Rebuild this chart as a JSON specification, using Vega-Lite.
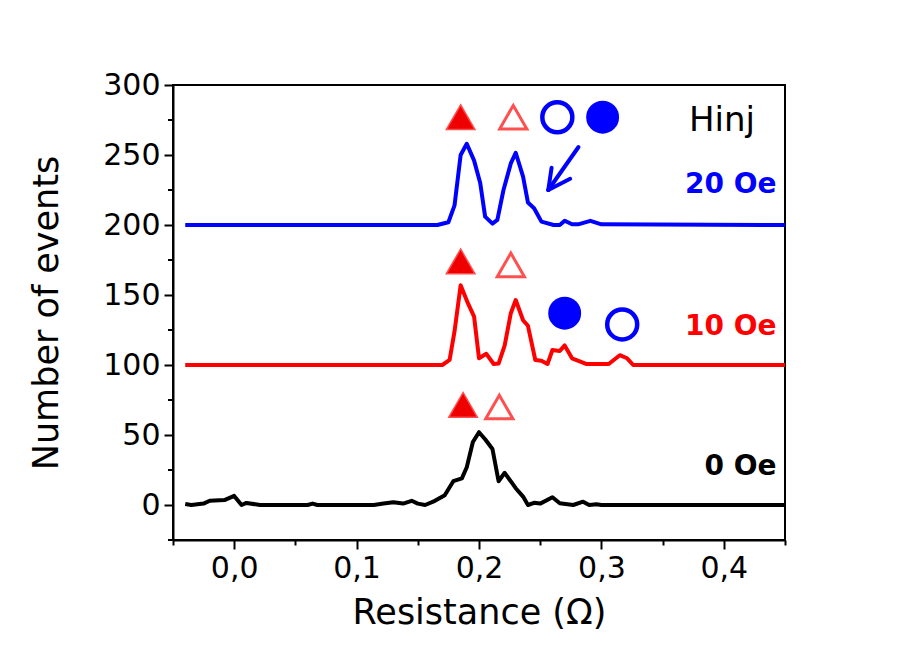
{
  "$schema": "https://vega.github.io/schema/vega-lite/v6.json",
  "width": 612,
  "height": 455,
  "autosize": "none",
  "padding": {"left": 173, "top": 85, "right": 120, "bottom": 109},
  "background": "white",
  "config": {
    "view": {"stroke": "black", "strokeWidth": 2},
    "axis": {
      "domainColor": "black", "domainWidth": 2, "tickColor": "black", "tickWidth": 2,
      "labelFont": "DejaVu Sans", "labelFontSize": 30, "labelColor": "black", "labelOverlap": false,
      "titleFont": "DejaVu Sans", "titleFontSize": 35, "titleFontWeight": "normal", "titleColor": "black",
      "grid": false
    }
  },
  "datasets": {
    "curves": [
      {"x": -0.040, "y": 0.7, "s": "0 Oe"}, {"x": -0.035, "y": 0, "s": "0 Oe"}, {"x": -0.025, "y": 1, "s": "0 Oe"}, {"x": -0.020, "y": 3, "s": "0 Oe"}, {"x": -0.008, "y": 3.5, "s": "0 Oe"}, {"x": 0.000, "y": 6.5, "s": "0 Oe"}, {"x": 0.006, "y": 0, "s": "0 Oe"}, {"x": 0.010, "y": 1.5, "s": "0 Oe"}, {"x": 0.021, "y": 0, "s": "0 Oe"}, {"x": 0.060, "y": 0, "s": "0 Oe"}, {"x": 0.064, "y": 1, "s": "0 Oe"}, {"x": 0.068, "y": 0, "s": "0 Oe"}, {"x": 0.114, "y": 0, "s": "0 Oe"}, {"x": 0.122, "y": 1, "s": "0 Oe"}, {"x": 0.130, "y": 2, "s": "0 Oe"}, {"x": 0.138, "y": 1, "s": "0 Oe"}, {"x": 0.145, "y": 3, "s": "0 Oe"}, {"x": 0.150, "y": 1, "s": "0 Oe"}, {"x": 0.156, "y": 0, "s": "0 Oe"}, {"x": 0.164, "y": 3, "s": "0 Oe"}, {"x": 0.172, "y": 7, "s": "0 Oe"}, {"x": 0.179, "y": 17, "s": "0 Oe"}, {"x": 0.186, "y": 19, "s": "0 Oe"}, {"x": 0.190, "y": 27, "s": "0 Oe"}, {"x": 0.195, "y": 45, "s": "0 Oe"}, {"x": 0.200, "y": 52, "s": "0 Oe"}, {"x": 0.205, "y": 47, "s": "0 Oe"}, {"x": 0.211, "y": 40, "s": "0 Oe"}, {"x": 0.216, "y": 17, "s": "0 Oe"}, {"x": 0.221, "y": 23, "s": "0 Oe"}, {"x": 0.230, "y": 12, "s": "0 Oe"}, {"x": 0.236, "y": 6, "s": "0 Oe"}, {"x": 0.240, "y": 0, "s": "0 Oe"}, {"x": 0.245, "y": 1.6, "s": "0 Oe"}, {"x": 0.250, "y": 1, "s": "0 Oe"}, {"x": 0.260, "y": 5.5, "s": "0 Oe"}, {"x": 0.266, "y": 1.2, "s": "0 Oe"}, {"x": 0.277, "y": 0, "s": "0 Oe"}, {"x": 0.285, "y": 2.4, "s": "0 Oe"}, {"x": 0.290, "y": 0, "s": "0 Oe"}, {"x": 0.296, "y": 0.5, "s": "0 Oe"}, {"x": 0.300, "y": 0, "s": "0 Oe"}, {"x": 0.450, "y": 0, "s": "0 Oe"},
      {"x": -0.040, "y": 100, "s": "10 Oe"}, {"x": 0.170, "y": 100, "s": "10 Oe"}, {"x": 0.176, "y": 103.6, "s": "10 Oe"}, {"x": 0.180, "y": 124, "s": "10 Oe"}, {"x": 0.185, "y": 157, "s": "10 Oe"}, {"x": 0.191, "y": 144, "s": "10 Oe"}, {"x": 0.196, "y": 134.5, "s": "10 Oe"}, {"x": 0.200, "y": 104.8, "s": "10 Oe"}, {"x": 0.206, "y": 108, "s": "10 Oe"}, {"x": 0.212, "y": 100.7, "s": "10 Oe"}, {"x": 0.216, "y": 101, "s": "10 Oe"}, {"x": 0.221, "y": 114, "s": "10 Oe"}, {"x": 0.226, "y": 137, "s": "10 Oe"}, {"x": 0.230, "y": 146.4, "s": "10 Oe"}, {"x": 0.236, "y": 132, "s": "10 Oe"}, {"x": 0.240, "y": 128, "s": "10 Oe"}, {"x": 0.246, "y": 103.6, "s": "10 Oe"}, {"x": 0.251, "y": 103, "s": "10 Oe"}, {"x": 0.256, "y": 100.7, "s": "10 Oe"}, {"x": 0.260, "y": 110.7, "s": "10 Oe"}, {"x": 0.266, "y": 110, "s": "10 Oe"}, {"x": 0.270, "y": 114, "s": "10 Oe"}, {"x": 0.276, "y": 104.8, "s": "10 Oe"}, {"x": 0.288, "y": 100.7, "s": "10 Oe"}, {"x": 0.306, "y": 100.7, "s": "10 Oe"}, {"x": 0.315, "y": 107, "s": "10 Oe"}, {"x": 0.321, "y": 104.8, "s": "10 Oe"}, {"x": 0.326, "y": 100, "s": "10 Oe"}, {"x": 0.450, "y": 100, "s": "10 Oe"},
      {"x": -0.040, "y": 200, "s": "20 Oe"}, {"x": 0.166, "y": 200, "s": "20 Oe"}, {"x": 0.175, "y": 202, "s": "20 Oe"}, {"x": 0.180, "y": 214, "s": "20 Oe"}, {"x": 0.185, "y": 250, "s": "20 Oe"}, {"x": 0.190, "y": 258, "s": "20 Oe"}, {"x": 0.196, "y": 246, "s": "20 Oe"}, {"x": 0.201, "y": 230, "s": "20 Oe"}, {"x": 0.205, "y": 206, "s": "20 Oe"}, {"x": 0.211, "y": 201, "s": "20 Oe"}, {"x": 0.215, "y": 203.6, "s": "20 Oe"}, {"x": 0.220, "y": 225, "s": "20 Oe"}, {"x": 0.226, "y": 244, "s": "20 Oe"}, {"x": 0.230, "y": 251.6, "s": "20 Oe"}, {"x": 0.236, "y": 234.5, "s": "20 Oe"}, {"x": 0.240, "y": 216, "s": "20 Oe"}, {"x": 0.245, "y": 212, "s": "20 Oe"}, {"x": 0.251, "y": 202.4, "s": "20 Oe"}, {"x": 0.261, "y": 200, "s": "20 Oe"}, {"x": 0.266, "y": 200, "s": "20 Oe"}, {"x": 0.270, "y": 203, "s": "20 Oe"}, {"x": 0.276, "y": 200.5, "s": "20 Oe"}, {"x": 0.281, "y": 200.5, "s": "20 Oe"}, {"x": 0.291, "y": 203, "s": "20 Oe"}, {"x": 0.300, "y": 200.5, "s": "20 Oe"}, {"x": 0.450, "y": 200, "s": "20 Oe"}
    ],
    "markers": [
      {"x": 0.185, "y": 277, "m": "tri_filled"}, {"x": 0.228, "y": 277, "m": "tri_open"}, {"x": 0.264, "y": 277, "m": "circ_open"}, {"x": 0.301, "y": 277, "m": "circ_filled"},
      {"x": 0.185, "y": 174, "m": "tri_filled"}, {"x": 0.226, "y": 171.5, "m": "tri_open"}, {"x": 0.270, "y": 137, "m": "circ_filled"}, {"x": 0.317, "y": 129, "m": "circ_open"},
      {"x": 0.187, "y": 71.5, "m": "tri_filled"}, {"x": 0.2166, "y": 70, "m": "tri_open"}
    ],
    "labels": [
      {"x": 0.443, "y": 228.6, "t": "20 Oe"},
      {"x": 0.443, "y": 127, "t": "10 Oe"},
      {"x": 0.443, "y": 27, "t": "0 Oe"}
    ],
    "hinj": [
      {"x": 0.4255, "y": 274, "t": "Hinj"}
    ],
    "arrow": [
      {"x1": 0.2813, "y1": 255.7, "x2": 0.2566, "y2": 225},
      {"x1": 0.2566, "y1": 225, "x2": 0.2593, "y2": 240.9},
      {"x1": 0.2566, "y1": 225, "x2": 0.2745, "y2": 233}
    ],
    "yminor": [
      {"y": -25, "x1": -0.05, "x2": -0.0541}, {"y": 25, "x1": -0.05, "x2": -0.0541}, {"y": 75, "x1": -0.05, "x2": -0.0541},
      {"y": 125, "x1": -0.05, "x2": -0.0541}, {"y": 175, "x1": -0.05, "x2": -0.0541}, {"y": 225, "x1": -0.05, "x2": -0.0541},
      {"y": 275, "x1": -0.05, "x2": -0.0541}
    ]
  },
  "layer": [
    {
      "data": {"name": "curves"},
      "mark": {"type": "line", "strokeWidth": 4, "strokeJoin": "round"},
      "encoding": {
        "x": {"field": "x", "type": "quantitative", "title": "Resistance (Ω)",
          "scale": {"domain": [-0.05, 0.45], "nice": false, "zero": false},
          "axis": {
            "values": [-0.05, 0, 0.05, 0.1, 0.15, 0.2, 0.25, 0.3, 0.35, 0.4, 0.45],
            "labelExpr": "abs(datum.value*10 - round(datum.value*10)) < 0.001 ? replace(format(datum.value, '.1f'), '.', ',') : ''",
            "tickSize": {"condition": {"test": "abs(datum.value*10 - round(datum.value*10)) < 0.001", "value": 9}, "value": 5},
            "labelPadding": 4, "titlePadding": 12, "labelFlush": false, "labelOverlap": false
          }
        },
        "y": {"field": "y", "type": "quantitative", "title": "Number of events",
          "scale": {"domain": [-25, 300], "nice": false, "zero": false},
          "axis": {
            "values": [0, 50, 100, 150, 200, 250, 300],
            "format": "d",
            "tickSize": 9,
            "labelPadding": 4, "titlePadding": 38, "labelFlush": false, "labelOverlap": false
          }
        },
        "color": {"field": "s", "type": "nominal", "legend": null,
          "scale": {"domain": ["0 Oe", "10 Oe", "20 Oe"], "range": ["#000000", "#ff0000", "#0000ff"]}},
        "detail": {"field": "s"}
      }
    },
    {
      "data": {"name": "yminor"},
      "mark": {"type": "rule", "color": "black", "strokeWidth": 2},
      "encoding": {
        "x": {"field": "x1", "type": "quantitative"}, "x2": {"field": "x2"},
        "y": {"field": "y", "type": "quantitative"}
      }
    },
    {
      "data": {"name": "markers"},
      "transform": [{"filter": "datum.m == 'tri_filled'"}],
      "mark": {"type": "point", "shape": "triangle-up", "filled": true, "fill": "#ee0000", "stroke": "#ff4d4d", "strokeWidth": 1.5, "size": 820, "opacity": 1},
      "encoding": {"x": {"field": "x", "type": "quantitative"}, "y": {"field": "y", "type": "quantitative"}}
    },
    {
      "data": {"name": "markers"},
      "transform": [{"filter": "datum.m == 'tri_open'"}],
      "mark": {"type": "point", "shape": "triangle-up", "filled": false, "stroke": "#ff5050", "strokeWidth": 3, "size": 740, "opacity": 1},
      "encoding": {"x": {"field": "x", "type": "quantitative"}, "y": {"field": "y", "type": "quantitative"}}
    },
    {
      "data": {"name": "markers"},
      "transform": [{"filter": "datum.m == 'circ_open'"}],
      "mark": {"type": "point", "shape": "circle", "filled": false, "stroke": "#0000ff", "strokeWidth": 4.5, "size": 900, "opacity": 1},
      "encoding": {"x": {"field": "x", "type": "quantitative"}, "y": {"field": "y", "type": "quantitative"}}
    },
    {
      "data": {"name": "markers"},
      "transform": [{"filter": "datum.m == 'circ_filled'"}],
      "mark": {"type": "point", "shape": "circle", "filled": true, "fill": "#0000ff", "size": 1080, "opacity": 1},
      "encoding": {"x": {"field": "x", "type": "quantitative"}, "y": {"field": "y", "type": "quantitative"}}
    },
    {
      "data": {"name": "arrow"},
      "mark": {"type": "rule", "color": "#0000ff", "strokeWidth": 4, "strokeCap": "round"},
      "encoding": {
        "x": {"field": "x1", "type": "quantitative"}, "y": {"field": "y1", "type": "quantitative"},
        "x2": {"field": "x2"}, "y2": {"field": "y2"}
      }
    },
    {
      "data": {"name": "labels"},
      "mark": {"type": "text", "align": "right", "baseline": "middle", "font": "DejaVu Sans", "fontWeight": "bold", "fontSize": 28},
      "encoding": {
        "x": {"field": "x", "type": "quantitative"}, "y": {"field": "y", "type": "quantitative"},
        "text": {"field": "t"},
        "color": {"field": "t", "type": "nominal", "legend": null,
          "scale": {"domain": ["20 Oe", "10 Oe", "0 Oe"], "range": ["#0000ff", "#ff0000", "#000000"]}}
      }
    },
    {
      "data": {"name": "hinj"},
      "mark": {"type": "text", "align": "right", "baseline": "middle", "font": "DejaVu Sans", "fontWeight": "normal", "fontSize": 34, "color": "black"},
      "encoding": {
        "x": {"field": "x", "type": "quantitative"}, "y": {"field": "y", "type": "quantitative"},
        "text": {"field": "t"}
      }
    }
  ]
}
